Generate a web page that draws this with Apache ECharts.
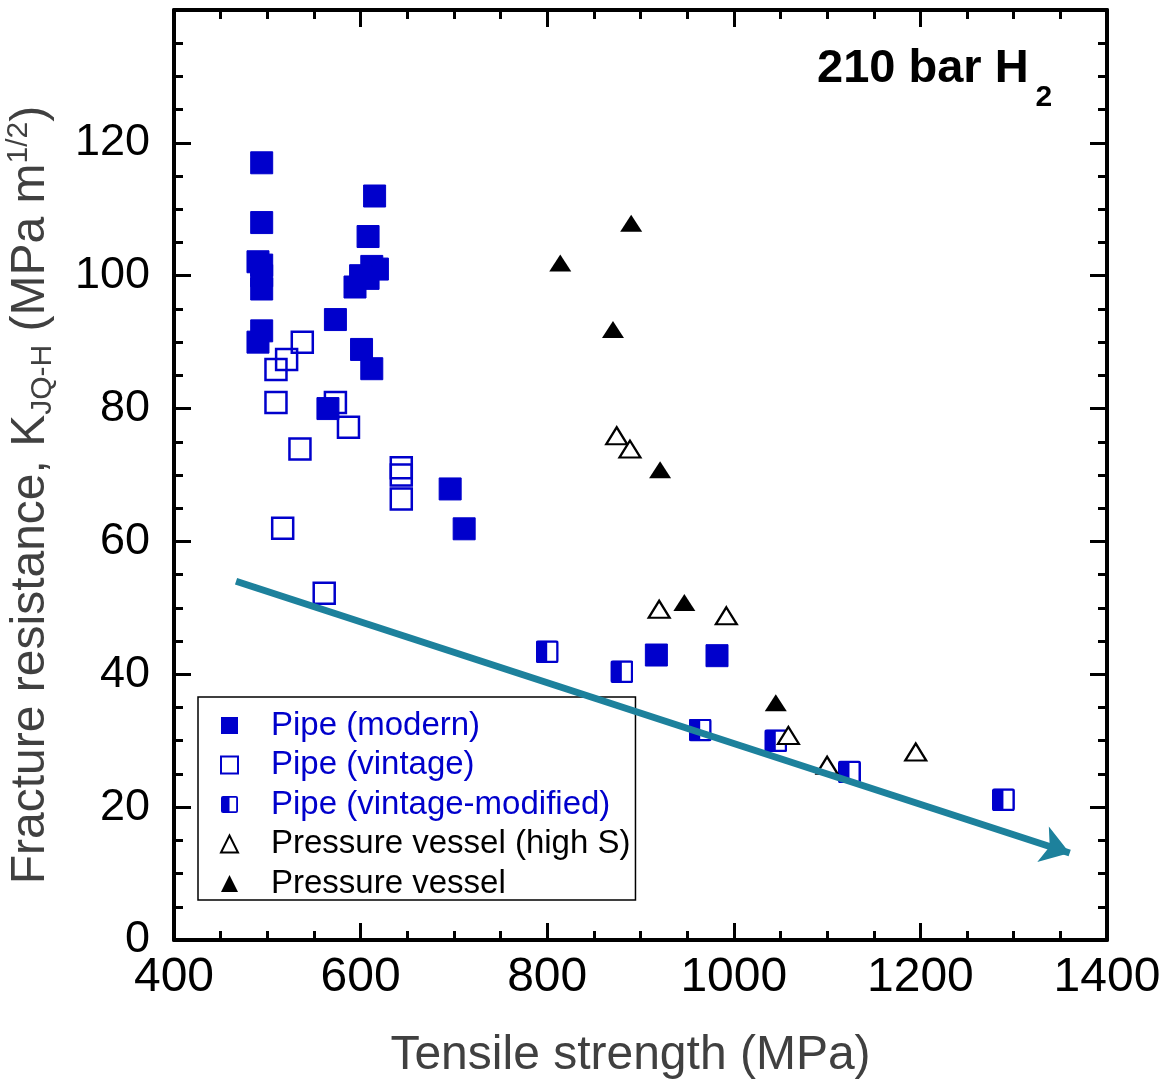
<!DOCTYPE html>
<html><head><meta charset="utf-8">
<script src="https://cdn.jsdelivr.net/npm/echarts@6/dist/echarts.min.js"></script>
<style>html,body{margin:0;padding:0;background:#fff}#c{width:1165px;height:1080px}</style>
</head><body><div id="c"></div>
<script>
// ---- data ----
const seriesNames = ['Pipe (modern)', 'Pipe (vintage)', 'Pipe (vintage-modified)', 'Pressure vessel (high S)', 'Pressure vessel'];
const xTickLabels = [400, 600, 800, 1000, 1200, 1400];
const yTickLabels = [0, 20, 40, 60, 80, 100, 120];

const pipeModernX = [494, 494, 490, 494, 494, 494, 494, 490, 615, 608, 612, 618, 600, 608, 594, 573, 601, 612, 565, 696, 711, 917, 982];
const pipeModernY = [117.0, 108.0, 102.1, 101.6, 100.0, 98.0, 91.7, 90.0, 112.0, 105.9, 101.4, 101.0, 100.0, 99.6, 98.3, 93.4, 88.9, 86.0, 80.0, 67.9, 61.9, 42.9, 42.8];

const pipeVintageX = [537.5, 520.7, 509.3, 509.3, 573, 587, 535, 643.6, 643.6, 643.6, 516.5, 561];
const pipeVintageY = [90.0, 87.4, 85.9, 80.9, 80.9, 77.2, 73.9, 71.1, 70.0, 66.4, 62.0, 52.2];

const pipeModX = [800, 880, 964, 1045, 1124, 1289];
const pipeModY = [43.4, 40.4, 31.6, 30.0, 25.3, 21.1];

const pvHighSX = [874.5, 888.7, 920, 992, 1058.5, 1100, 1195];
const pvHighSY = [75.9, 73.9, 49.8, 48.8, 30.8, 26.3, 28.3];

const pvX = [890, 814, 870.5, 921, 947, 1045];
const pvY = [107.9, 101.9, 91.9, 70.8, 50.8, 35.7];

const trendX = [466.5, 1360];
const trendY = [54.0, 13.1];

// ---- styles ----
const BLUE = '#0000cc';
const FONT = '"Liberation Sans", Arial, sans-serif';
const TEAL = '#1d819c';
const halfSquare = 'image://data:image/svg+xml;utf8,' + encodeURIComponent(
  "<svg xmlns='http://www.w3.org/2000/svg' width='46' height='46' viewBox='0 0 23 23'>" +
  "<rect x='1.25' y='1.25' width='20.5' height='20.5' rx='1.5' fill='#ffffff' stroke='" + BLUE + "' stroke-width='2.5'/>" +
  "<path d='M1.25 2.75 A1.5 1.5 0 0 1 2.75 1.25 H11.5 V21.75 H2.75 A1.5 1.5 0 0 1 1.25 20.25 Z' fill='" + BLUE + "'/></svg>");

const zip = (xs, ys) => xs.map((x, i) => [x, ys[i]]);

function axisCommon(extra) {
  return Object.assign({
    type: 'value',
    axisLine: { show: true, onZero: false, lineStyle: { color: '#000', width: 4 } },
    axisTick: { show: true, inside: true, length: 17, lineStyle: { color: '#000', width: 3 } },
    minorTick: { show: true, splitNumber: 4, length: 9, lineStyle: { color: '#000', width: 3 } },
    splitLine: { show: false },
    minorSplitLine: { show: false }
  }, extra);
}

const chart = echarts.init(document.getElementById('c'), null, { renderer: 'canvas' });
chart.setOption({
  animation: false,
  backgroundColor: '#fff',
  textStyle: { fontFamily: FONT },
  title: {
    text: '{a|210 bar H}{b|2}',
    left: 817, top: 25, padding: 0,
    textStyle: {
      rich: {
        a: { fontSize: 47, fontWeight: 'bold', color: '#000', fontFamily: FONT },
        b: { fontSize: 30, fontWeight: 'bold', color: '#000', fontFamily: FONT, padding: [58, 0, 0, 7] }
      }
    }
  },
  grid: { left: 174, right: 58, top: 10, bottom: 140, containLabel: false, outerBoundsMode: 'none' },
  xAxis: [
    axisCommon({
      min: xTickLabels[0], max: xTickLabels[xTickLabels.length - 1], interval: 200, position: 'bottom',
      axisLabel: { fontSize: 48, color: '#000', margin: 14, fontFamily: FONT, formatter: v => String(v) },
      name: 'Tensile strength (MPa)', nameLocation: 'middle', nameGap: 92,
      nameTextStyle: { fontSize: 48, color: '#404040', fontFamily: FONT, padding: [0, 20, 0, 0] }
    }),
    axisCommon({
      min: xTickLabels[0], max: xTickLabels[xTickLabels.length - 1], interval: 200, position: 'top',
      axisLabel: { show: false }
    })
  ],
  yAxis: [
    axisCommon({
      min: 0, max: 140, interval: 20, position: 'left',
      axisLabel: {
        fontSize: 45, color: '#000', margin: 24, fontFamily: FONT,
        formatter: v => (yTickLabels.indexOf(v) >= 0 ? String(v) : '')
      },
      name: '{t|Fracture resistance, K}{sub|JQ-H}{t| (MPa m}{sup|1/2}{t|)}',
      nameLocation: 'middle', nameRotate: 90, nameGap: 116,
      nameTextStyle: {
        color: '#404040', padding: [0, 40, 0, 0],
        rich: {
          t: { fontSize: 48, color: '#404040', fontFamily: FONT },
          sub: { fontSize: 30, color: '#404040', fontFamily: FONT, padding: [24, 0, 0, 0] },
          sup: { fontSize: 30, color: '#404040', fontFamily: FONT, padding: [0, 0, 24, 0] }
        }
      }
    }),
    axisCommon({
      min: 0, max: 140, interval: 20, position: 'right',
      axisLabel: { show: false }
    })
  ],
  legend: {
    orient: 'vertical', left: 198, top: 697,
    backgroundColor: '#fff', borderColor: '#000', borderWidth: 1.5,
    padding: [12, 5, 0, 22],
    itemWidth: 17, itemHeight: 17, itemGap: 6.5,
    selectedMode: false,
    formatter: name => '{t|' + name + '}',
    textStyle: {
      fontSize: 33, fontFamily: FONT,
      rich: { t: { fontSize: 33, lineHeight: 30, fontFamily: FONT, padding: [0, 0, 0, 28] } }
    },
    data: [
      { name: seriesNames[0], icon: 'rect', itemStyle: { color: BLUE, borderWidth: 0, opacity: 1 }, textStyle: { color: BLUE } },
      { name: seriesNames[1], icon: 'rect', itemStyle: { color: '#fff', borderColor: BLUE, borderWidth: 2, opacity: 1 }, textStyle: { color: BLUE } },
      { name: seriesNames[2], icon: halfSquare, itemStyle: { color: BLUE, opacity: 1 }, textStyle: { color: BLUE } },
      { name: seriesNames[3], icon: 'triangle', itemStyle: { color: '#fff', borderColor: '#000', borderWidth: 2, opacity: 1 }, textStyle: { color: '#000' } },
      { name: seriesNames[4], icon: 'triangle', itemStyle: { color: '#000', borderWidth: 0, opacity: 1 }, textStyle: { color: '#000' } }
    ]
  },
  series: [
    {
      name: seriesNames[1], type: 'scatter', data: zip(pipeVintageX, pipeVintageY),
      symbol: 'rect', symbolSize: 21, z: 2,
      itemStyle: { color: 'rgba(0,0,0,0)', borderColor: BLUE, borderWidth: 2.5, opacity: 1 },
      emphasis: { disabled: true }
    },
    {
      name: seriesNames[0], type: 'scatter', data: zip(pipeModernX, pipeModernY),
      symbol: 'rect', symbolSize: 22, z: 2,
      itemStyle: { color: BLUE, borderColor: BLUE, borderWidth: 1, opacity: 1 },
      emphasis: { disabled: true }
    },
    {
      name: seriesNames[2], type: 'scatter', data: zip(pipeModX, pipeModY),
      symbol: halfSquare, symbolSize: 23, z: 2,
      itemStyle: { color: BLUE, opacity: 1 },
      emphasis: { disabled: true }
    },
    {
      name: seriesNames[3], type: 'scatter', data: zip(pvHighSX, pvHighSY),
      symbol: 'triangle', symbolSize: [21, 17], z: 2,
      itemStyle: { color: '#fff', borderColor: '#000', borderWidth: 2.2, opacity: 1 },
      emphasis: { disabled: true }
    },
    {
      name: seriesNames[4], type: 'scatter', data: zip(pvX, pvY),
      symbol: 'triangle', symbolSize: [22, 17], z: 2,
      itemStyle: { color: '#000', opacity: 1 },
      emphasis: { disabled: true }
    },
    {
      name: 'trend', type: 'scatter', data: [], z: 3, silent: true,
      markLine: {
        silent: true, animation: false,
        symbol: ['none', 'arrow'], symbolSize: 28,
        label: { show: false },
        lineStyle: { color: TEAL, width: 7, type: 'solid', opacity: 1 },
        itemStyle: { color: TEAL },
        emphasis: { disabled: true },
        data: [[{ coord: [trendX[0], trendY[0]] }, { coord: [trendX[1], trendY[1]] }]]
      }
    }
  ]
});
</script></body></html>
